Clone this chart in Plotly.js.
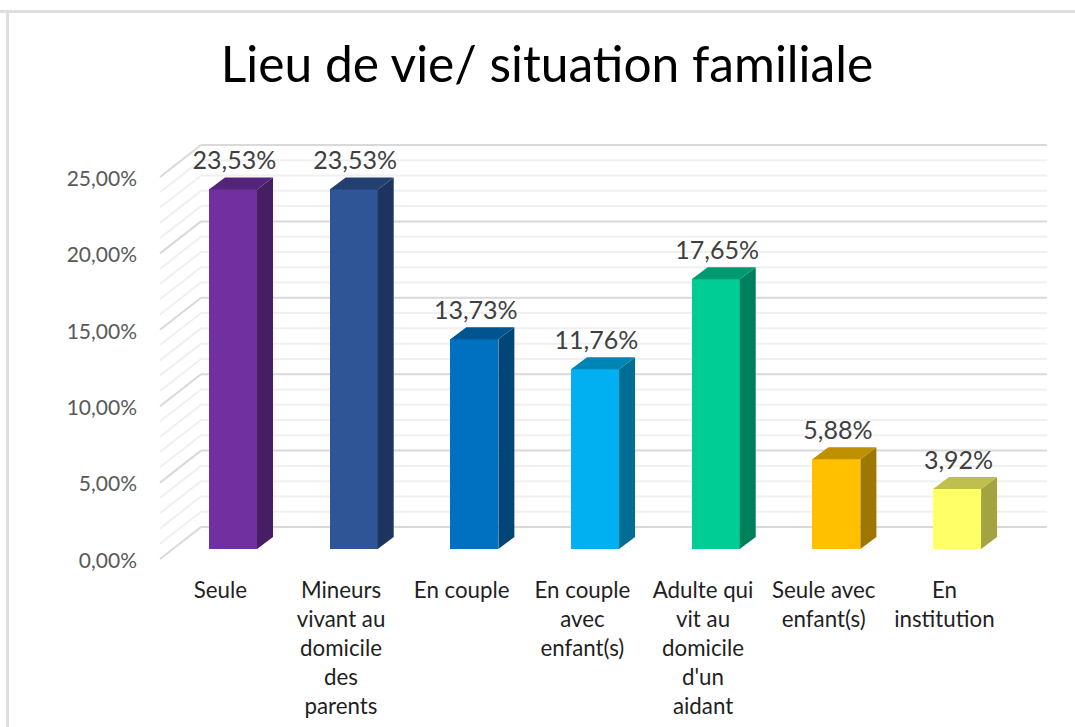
<!DOCTYPE html>
<html>
<head>
<meta charset="utf-8">
<script src="https://cdn.plot.ly/plotly-3.0.1.min.js"></script>
<style>html,body{margin:0;padding:0;background:#fff;overflow:hidden}#chart{width:1075px;height:727px}</style>
</head>
<body>
<div id="chart"></div>
<script>
const categories = [
  ["Seule"],
  ["Mineurs", "vivant au", "domicile", "des", "parents"],
  ["En couple"],
  ["En couple", "avec", "enfant(s)"],
  ["Adulte qui", "vit au", "domicile", "d'un", "aidant"],
  ["Seule avec", "enfant(s)"],
  ["En", "institution"]
];
const values = [23.53, 23.53, 13.73, 11.76, 17.65, 5.88, 3.92];
const frontColors = ["#7030A0", "#2F5597", "#0070C0", "#00B0F0", "#00CC96", "#FFC000", "#FFFF66"];
const sideColors = ["#451E63", "#1D355E", "#004677", "#006D95", "#007F5D", "#9E7700", "#A3A342"];
const topColors = ["#54247A", "#233F70", "#005490", "#0084B4", "#009970", "#BF9000", "#BFBF4D"];
const yTickValues = [0, 5, 10, 15, 20, 25];
const wallLevels = [];
for (let i = 0; i <= 25; i++) wallLevels.push(i);

// pseudo-3D projection, in axis units
const barWidth = 0.398, depthX = 0.1326, depthY = 0.785;
const wallFrontX = -0.605, wallBackX = -0.265, wallRightX = 6.746;
const wallFrontDY = -0.654, wallBackDY = 1.44;
const labelShift = -0.105;

const fmt = v => v.toFixed(2).replace(".", ",");
const xs = values.map((_, i) => i);

const traces = [];
traces.push({
  type: "bar", x: xs, y: values, width: barWidth,
  marker: {color: frontColors, line: {width: 0}},
  hoverinfo: "skip", showlegend: false
});
values.forEach((v, i) => {
  const l = i - barWidth / 2, r = i + barWidth / 2;
  traces.push({
    type: "scatter", mode: "lines", fill: "toself", fillcolor: sideColors[i],
    x: [r, r + depthX, r + depthX, r, r], y: [0, depthY, v + depthY, v, 0],
    line: {width: 0, color: sideColors[i]}, hoverinfo: "skip", showlegend: false
  });
  traces.push({
    type: "scatter", mode: "lines", fill: "toself", fillcolor: topColors[i],
    x: [l, l + depthX, r + depthX, r, l], y: [v, v + depthY, v + depthY, v, v],
    line: {width: 0, color: topColors[i]}, hoverinfo: "skip", showlegend: false
  });
});
traces.push({
  type: "scatter", mode: "text", x: xs.map(i => i + 0.012), y: values.map(v => v + depthY + 0.12),
  text: values.map(v => fmt(v) + "%"), textposition: "top center",
  textfont: {family: "Lato, sans-serif", size: 25, color: "#404040"},
  hoverinfo: "skip", showlegend: false
});

const shapes = [];
wallLevels.forEach(l => {
  const major = l % 5 === 0;
  const col = major ? "#D9D9D9" : "#F0F0F0";
  shapes.push({type: "line", layer: "below", xref: "x", yref: "y",
    x0: wallBackX, x1: wallRightX, y0: l + wallBackDY, y1: l + wallBackDY,
    line: {color: col, width: 2}});
  shapes.push({type: "line", layer: "below", xref: "x", yref: "y",
    x0: wallFrontX, x1: wallBackX, y0: l + wallFrontDY, y1: l + wallBackDY,
    line: {color: col, width: 2}});
});
// chart frame (runs off the right and bottom of the picture)
shapes.push({type: "line", xref: "paper", yref: "paper", layer: "below",
  x0: -1, x1: 2, y0: 1 + (100 - 11.5) / 472, y1: 1 + (100 - 11.5) / 472,
  line: {color: "#DEDEDE", width: 3}});
shapes.push({type: "line", xref: "paper", yref: "paper", layer: "below",
  x0: (7.5 - 140) / 920, x1: (7.5 - 140) / 920, y0: -1, y1: 1 + (100 - 10) / 472,
  line: {color: "#DEDEDE", width: 3}});

const layout = {
  width: 1075, height: 727,
  margin: {l: 140, r: 15, t: 100, b: 155, pad: 0},
  paper_bgcolor: "#ffffff", plot_bgcolor: "rgba(0,0,0,0)",
  showlegend: false, hovermode: false,
  title: {
    text: "Lieu de vie/ situation familiale",
    font: {family: "Lato, sans-serif", size: 49.7, color: "#000000"},
    x: 547 / 1075, xanchor: "center", y: 1 - 65 / 727, yanchor: "middle"
  },
  xaxis: {
    range: [-0.7707, 6.853], showgrid: false, zeroline: false, showline: false, ticks: "",
    tickmode: "array", tickvals: xs.map(i => i + labelShift),
    ticktext: categories.map(c => c.join("<br>")),
    tickfont: {family: "Lato, sans-serif", size: 22.3, color: "#1F1F1F"},
    tickangle: 0, automargin: false, ticklabelstandoff: 3
  },
  yaxis: {
    range: [-1.505, 29.385], showgrid: false, zeroline: false, showline: false, ticks: "",
    tickmode: "array", tickvals: yTickValues.map(v => v + wallFrontDY - 0.1),
    ticktext: yTickValues.map(v => fmt(v) + "%"),
    tickfont: {family: "Lato, sans-serif", size: 21, color: "#595959"},
    automargin: false, ticklabelstandoff: 2
  },
  bargap: 0,
  shapes: shapes
};
Plotly.newPlot("chart", traces, layout, {displayModeBar: false, staticPlot: true});
</script>
</body>
</html>
